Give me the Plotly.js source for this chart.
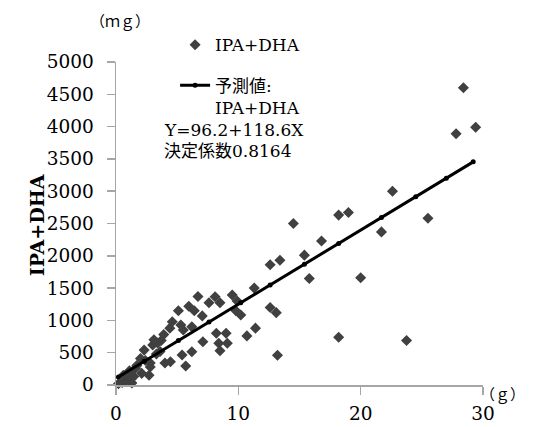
<!DOCTYPE html>
<html>
<head>
<meta charset="utf-8">
<script src="https://cdn.plot.ly/plotly-3.0.1.min.js"></script>
<style>html,body{margin:0;padding:0;background:#fff;}#chart{width:536px;height:427px;}</style>
</head>
<body>
<div id="chart"></div>
<script>
// Observed values: intake (g) vs IPA+DHA (mg)
const obsX = [0.2, 0.5, 0.8, 1.0, 1.3, 1.45, 1.7, 2.0, 2.1, 2.3, 2.7, 2.8, 2.8, 3.0, 3.1, 3.4, 3.7, 3.9, 4.0, 4.4, 4.45, 4.6,
  0.6, 1.1, 1.6, 2.4, 3.3, 3.6,
  5.1, 5.3, 5.5, 5.4, 5.7, 5.95, 6.2, 6.2, 6.4, 6.7, 7.05, 7.1, 7.6, 8.1, 8.2, 8.4, 8.5, 8.5, 9.0, 9.1, 9.5, 9.8, 9.9, 10.2,
  10.7, 11.3, 11.4, 12.6, 12.6, 13.1, 13.2, 13.4, 14.5, 15.4, 15.8, 16.8, 18.2, 18.2, 19.0, 20.0, 21.7, 22.6, 23.75, 25.5,
  27.8, 28.4, 29.4];
const obsY = [20, 40, 60, 80, 30, 130, 300, 410, 180, 540, 150, 280, 340, 620, 700, 650, 690, 780, 340, 880, 360, 980,
  150, 220, 260, 380, 480, 520,
  1150, 930, 850, 464, 294, 1220, 900, 516, 1150, 1370, 1070, 670, 1274, 1367, 800, 645, 1274, 530, 800, 645, 1393, 1150, 1300, 1084,
  760, 1500, 880, 1200, 1860, 1120, 460, 1930, 2500, 2010, 1650, 2230, 740, 2630, 2670, 1660, 2370, 3000, 690, 2580,
  3890, 4600, 3990];
// Predicted values (regression line)
const fitX = [0.2, 2.3, 5.1, 7.6, 10.2, 12.6, 15.4, 18.2, 21.7, 24.5, 27.0, 29.2];
const fitY = [125, 366, 687, 975, 1273, 1549, 1870, 2191, 2593, 2915, 3202, 3454];
const xTicks = [0, 10, 20, 30];
const yTicks = [0, 500, 1000, 1500, 2000, 2500, 3000, 3500, 4000, 4500, 5000];
const seriesName = 'IPA+DHA';
const fitName = '予測値:<br>IPA+DHA';
const eqText = 'Y=96.2+118.6X';
const r2Text = '決定係数0.8164';
const yTitle = 'IPA+DHA';
const yUnit = '（ｍｇ）';
const xUnit = '（ｇ）';

const FONT = 'DejaVu Serif, Noto Sans CJK JP, serif';
const axisGray = '#a6a6a6';

const traces = [
  {
    x: obsX, y: obsY, type: 'scatter', mode: 'markers', name: seriesName,
    marker: {symbol: 'diamond', size: 8.5, color: '#404040'},
    cliponaxis: false, legend: 'legend'
  },
  {
    x: fitX, y: fitY, type: 'scatter', mode: 'lines+markers', name: fitName,
    line: {color: '#000', width: 3},
    marker: {symbol: 'circle', size: 5, color: '#000'},
    cliponaxis: false, legend: 'legend2'
  }
];

const layout = {
  width: 536, height: 427,
  margin: {l: 116, r: 53, t: 62, b: 42},
  paper_bgcolor: '#fff', plot_bgcolor: '#fff',
  font: {family: FONT, size: 17, color: '#000'},
  showlegend: true,
  legend: {x: 0.161, y: 1.108, xanchor: 'left', yanchor: 'top', bgcolor: 'rgba(0,0,0,0)',
    font: {family: FONT, size: 17, color: '#000'}, valign: 'top'},
  legend2: {x: 0.161, y: 0.982, xanchor: 'left', yanchor: 'top', bgcolor: 'rgba(0,0,0,0)',
    font: {family: FONT, size: 17, color: '#000'}, valign: 'top'},
  xaxis: {
    range: [0, 30], tickvals: xTicks, ticktext: xTicks.map(String),
    showgrid: false, zeroline: false, showline: true, linecolor: axisGray, linewidth: 1.5,
    ticks: 'outside', ticklen: 8, tickwidth: 1.5, tickcolor: axisGray,
    tickfont: {family: FONT, size: 18.5, color: '#000'}, ticklabelstandoff: 3, fixedrange: true
  },
  yaxis: {
    range: [0, 5000], tickvals: yTicks, ticktext: yTicks.map(String),
    showgrid: false, zeroline: false, showline: true, linecolor: axisGray, linewidth: 1.5,
    ticks: 'outside', ticklen: 8, tickwidth: 1.5, tickcolor: axisGray,
    tickfont: {family: FONT, size: 18.5, color: '#000'}, ticklabelstandoff: 9, fixedrange: true
  },
  annotations: [
    {text: eqText, xref: 'paper', yref: 'paper', x: 0.125, y: 0.790, xanchor: 'left', yanchor: 'middle', showarrow: false, font: {family: FONT, size: 17}},
    {text: r2Text, xref: 'paper', yref: 'paper', x: 0.125, y: 0.724, xanchor: 'left', yanchor: 'middle', showarrow: false, font: {family: FONT, size: 17}},
    {text: '<b>' + yTitle + '</b>', xref: 'paper', yref: 'paper', x: -0.215, y: 0.495, xanchor: 'center', yanchor: 'middle', textangle: -90, showarrow: false, font: {family: FONT, size: 19}},
    {text: yUnit, xref: 'paper', yref: 'paper', x: 0.011, y: 1.124, xanchor: 'center', yanchor: 'middle', showarrow: false, font: {family: FONT, size: 15}},
    {text: xUnit, xref: 'paper', yref: 'paper', x: 1.054, y: -0.031, xanchor: 'center', yanchor: 'middle', showarrow: false, font: {family: FONT, size: 15}}
  ]
};

Plotly.newPlot('chart', traces, layout, {displayModeBar: false, staticPlot: true});
</script>
</body>
</html>
